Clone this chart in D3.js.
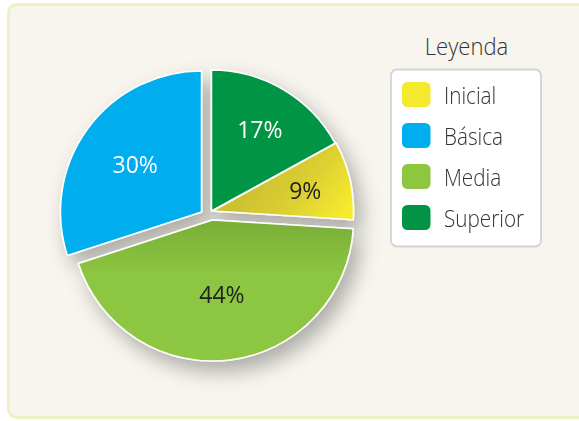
<!DOCTYPE html>
<html><head><meta charset="utf-8">
<script src="https://cdn.jsdelivr.net/npm/d3@7"></script>
<style>html,body{margin:0;padding:0;background:#fff;} svg{display:block;}</style>
</head><body><svg id="c" width="579" height="421"></svg>
<script>
// ---- data ----
const categories = ["Inicial", "Básica", "Media", "Superior"];
const values = [9, 30, 44, 17];
const colors = ["#f5e92e", "#00aeef", "#8dc63f", "#009444"];
const valueLabels = ["9%", "30%", "44%", "17%"];
const legendTitle = "Leyenda";
const drawOrder = ["Superior", "Inicial", "Media", "Básica"];

// ---- layout ----
const W = 579, H = 421;
const cx = 211.5, cy = 211, R = 141;
const explode = { "Superior": [0, 0], "Inicial": [1, 0], "Media": [1, 9], "Básica": [-10, 1] };
const labelR = { "Superior": 95, "Inicial": 95, "Media": 75, "Básica": 82 };
const labelFill = { "Superior": "#ffffff", "Básica": "#ffffff", "Inicial": "#222222", "Media": "#222222" };

const data = categories.map((c, i) => ({ cat: c, value: values[i], color: colors[i], label: valueLabels[i] }));
const svg = d3.select("#c");
const defs = svg.append("defs");

// shadow filter
const f = defs.append("filter").attr("id", "sh").attr("x", "-30%").attr("y", "-30%").attr("width", "160%").attr("height", "160%");
f.append("feDropShadow").attr("dx", 7).attr("dy", 10).attr("stdDeviation", 10)
  .attr("flood-color", "#000").attr("flood-opacity", 0.3);

// gradients (local coords, origin at slice centre)
const gY = defs.append("linearGradient").attr("id", "gInicial")
  .attr("gradientUnits", "userSpaceOnUse").attr("x1", 50).attr("y1", -40).attr("x2", 120).attr("y2", 15);
gY.append("stop").attr("offset", 0).attr("stop-color", "#cdc133");
gY.append("stop").attr("offset", 0.5).attr("stop-color", "#dcd031");
gY.append("stop").attr("offset", 1).attr("stop-color", "#f6ea2e");
const gM = defs.append("linearGradient").attr("id", "gMedia")
  .attr("gradientUnits", "userSpaceOnUse").attr("x1", 0).attr("y1", 0).attr("x2", 0).attr("y2", 55);
gM.append("stop").attr("offset", 0).attr("stop-color", "#78ae38");
gM.append("stop").attr("offset", 1).attr("stop-color", "#8dc63f");
const fillOf = d => d.cat === "Inicial" ? "url(#gInicial)" : d.cat === "Media" ? "url(#gMedia)" : d.color;

// panel
svg.append("rect").attr("x", 8.5).attr("y", 4.5).attr("width", 620).attr("height", 413)
  .attr("rx", 8).attr("fill", "#f7f5ee").attr("stroke", "#eef0c6").attr("stroke-width", 3);

// pie
const pie = d3.pie().value(d => d.value)
  .sort((a, b) => drawOrder.indexOf(a.cat) - drawOrder.indexOf(b.cat));
const arcs = pie(data);
const arc = d3.arc().innerRadius(0).outerRadius(R);

const pg = svg.append("g").attr("filter", "url(#sh)");
pg.selectAll("path").data(arcs).join("path")
  .attr("transform", d => `translate(${cx + explode[d.data.cat][0]},${cy + explode[d.data.cat][1]})`)
  .attr("d", arc)
  .attr("fill", d => fillOf(d.data))
  .attr("stroke", "#ffffff").attr("stroke-width", 1.5).attr("stroke-linejoin", "round");

svg.append("g").selectAll("text").data(arcs).join("text")
  .attr("x", d => { const a = (d.startAngle + d.endAngle) / 2; return cx + explode[d.data.cat][0] + labelR[d.data.cat] * Math.sin(a); })
  .attr("y", d => { const a = (d.startAngle + d.endAngle) / 2; return cy + explode[d.data.cat][1] - labelR[d.data.cat] * Math.cos(a); })
  .attr("text-anchor", "middle").attr("dominant-baseline", "central")
  .attr("font-family", "'Open Sans', sans-serif").attr("font-size", 23).attr("font-weight", 370)
  .attr("fill", d => labelFill[d.data.cat])
  .text(d => d.data.label);

// legend
const lx = 391, ly = 69.5, lw = 150, lh = 177;
svg.append("text").attr("transform", `translate(466.5,55) scale(0.92,1)`)
  .attr("text-anchor", "middle").attr("font-family", "'Open Sans', sans-serif").attr("font-size", 24).attr("font-weight", 350)
  .attr("fill", "#333333").text(legendTitle);
svg.append("rect").attr("x", lx).attr("y", ly).attr("width", lw).attr("height", lh).attr("rx", 6)
  .attr("fill", "#ffffff").attr("stroke", "#d3d3d3").attr("stroke-width", 1.8);
const ys = d3.scalePoint().domain(categories).range([82, 205]);
const li = svg.append("g").selectAll("g").data(data).join("g")
  .attr("transform", d => `translate(402,${ys(d.cat)})`);
li.append("rect").attr("width", 28.5).attr("height", 25).attr("rx", 5.5).attr("fill", d => d.color);
li.append("text").attr("transform", "translate(42,21.5) scale(0.9,1)")
  .attr("font-family", "'Open Sans', sans-serif").attr("font-size", 23).attr("font-weight", 350).attr("fill", "#333333")
  .text(d => d.cat);
</script></body></html>
